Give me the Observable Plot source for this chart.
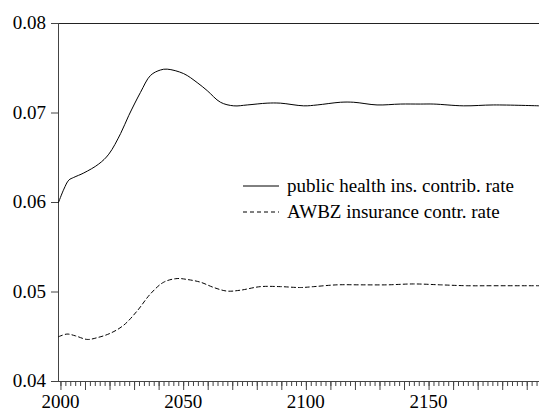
<!DOCTYPE html>
<html>
<head>
<meta charset="utf-8">
<script src="https://cdn.jsdelivr.net/npm/d3@7"></script>
<script src="https://cdn.jsdelivr.net/npm/@observablehq/plot@0.6"></script>
<style>
  html, body { margin: 0; padding: 0; background: #fff; }
  #chart { position: relative; width: 539px; height: 412px; }
  #overlay { position: absolute; left: 0; top: 0; pointer-events: none; }
</style>
</head>
<body>
<div id="chart"></div>
<script>
// Public health insurance contribution rate (solid)
const healthYears = [1999, 2001.2, 2003.2, 2005.2, 2009.3, 2015.4, 2019.5, 2024.3, 2027.6, 2032.4,
  2036.5, 2040.5, 2043.3, 2050, 2055.5, 2059.6, 2065, 2070.4, 2075.9, 2084, 2089.4, 2098.9,
  2104.4, 2113.9, 2119.3, 2128.8, 2138.3, 2146.5, 2151.9, 2164.1, 2176.3, 2195];
const healthRate = [0.0600, 0.0615, 0.0625, 0.0628, 0.0633, 0.0643, 0.0654, 0.0677, 0.0697, 0.0723,
  0.0742, 0.0748, 0.0749, 0.0744, 0.0734, 0.0725, 0.0712, 0.0708, 0.0709, 0.0711, 0.0711, 0.0708,
  0.0709, 0.0712, 0.0712, 0.0709, 0.0710, 0.0710, 0.0710, 0.0708, 0.0709, 0.0708];

// AWBZ insurance contribution rate (dashed)
const awbzYears = [1999, 2002.5, 2005.9, 2010.7, 2014.8, 2020.2, 2025.6, 2031.1, 2036.5, 2041.9,
  2047.3, 2051.4, 2056.8, 2062.3, 2067.7, 2073.1, 2081.3, 2089.4, 2097.6, 2103, 2112.5, 2122,
  2132.9, 2143.7, 2154.6, 2165.5, 2176.3, 2195];
const awbzRate = [0.0450, 0.0453, 0.0451, 0.0447, 0.0449, 0.0454, 0.0463, 0.0479, 0.0498, 0.0511,
  0.0515, 0.0514, 0.0511, 0.0505, 0.0501, 0.0502, 0.0506, 0.0506, 0.0505, 0.0506, 0.0508, 0.0508,
  0.0508, 0.0509, 0.0508, 0.0507, 0.0507, 0.0507];

const seriesNames = ["public health ins. contrib. rate", "AWBZ insurance contr. rate"];
const seriesDash = [null, "4,3"];

const yTicks = [0.04, 0.05, 0.06, 0.07, 0.08];
const xLabelTicks = [2000, 2050, 2100, 2150];
const xMajorTicks = d3.range(2000, 2195, 10);
const xMinorTicks = d3.range(2000, 2195, 2);
const xDomain = [1999, 2195];
const yDomain = [0.04, 0.08];

const health = healthYears.map((t, i) => ({t, v: healthRate[i]}));
const awbz = awbzYears.map((t, i) => ({t, v: awbzRate[i]}));

const axisColor = "#444";
const font = "Liberation Serif";
const fontSize = 19;

const plot = Plot.plot({
  width: 539,
  height: 412,
  marginTop: 23,
  marginLeft: 58,
  marginRight: 0,
  marginBottom: 31,
  x: {domain: xDomain, label: null},
  y: {domain: yDomain, label: null},
  marks: [
    Plot.ruleY([yDomain[1]], {stroke: "#222", strokeWidth: 1}),
    Plot.ruleY([yDomain[0]], {stroke: axisColor, strokeWidth: 1}),
    Plot.ruleX([xDomain[0]], {stroke: axisColor, strokeWidth: 1}),
    Plot.axisY({ticks: yTicks, tickSize: 7, tickFormat: () => "", stroke: axisColor, label: null}),
    Plot.axisX({ticks: xMinorTicks, tickSize: 5, tickFormat: () => "", stroke: axisColor, label: null}),
    Plot.axisX({ticks: xMajorTicks, tickSize: 9, tickFormat: () => "", stroke: axisColor, label: null}),
    Plot.line(health, {x: "t", y: "v", stroke: "#000", strokeWidth: 1, curve: "catmull-rom"}),
    Plot.line(awbz, {x: "t", y: "v", stroke: "#000", strokeWidth: 1, strokeDasharray: seriesDash[1], curve: "catmull-rom"})
  ]
});

const chart = document.getElementById("chart");
chart.appendChild(plot);

const xScale = plot.scale("x");
const yScale = plot.scale("y");
const left = xScale.range[0];
const bottom = yScale.range[0];

const overlay = d3.select(chart).append("svg")
  .attr("id", "overlay")
  .attr("width", 539)
  .attr("height", 412)
  .attr("font-family", font)
  .attr("font-size", fontSize)
  .attr("fill", "#000");

// Tick labels, placed with the plot's own scales
overlay.append("g").selectAll("text")
  .data(yTicks)
  .join("text")
  .attr("x", left - 12)
  .attr("y", d => yScale.apply(d))
  .attr("dy", "0.34em")
  .attr("text-anchor", "end")
  .text(d3.format(".2f"));

overlay.append("g").selectAll("text")
  .data(xLabelTicks)
  .join("text")
  .attr("x", d => xScale.apply(d))
  .attr("y", bottom + 27)
  .attr("text-anchor", "middle")
  .text(d => String(d));

// Legend inside the plotting area
const rows = overlay.append("g").selectAll("g")
  .data(seriesNames)
  .join("g")
  .attr("transform", (d, i) => `translate(243, ${186 + i * 26})`);

rows.append("line")
  .attr("x1", 0).attr("x2", 36)
  .attr("y1", 0).attr("y2", 0)
  .attr("stroke", "#000")
  .attr("stroke-width", 1)
  .attr("stroke-dasharray", (d, i) => seriesDash[i]);

rows.append("text")
  .attr("x", 44)
  .attr("y", 6)
  .text(d => d);
</script>
</body>
</html>
